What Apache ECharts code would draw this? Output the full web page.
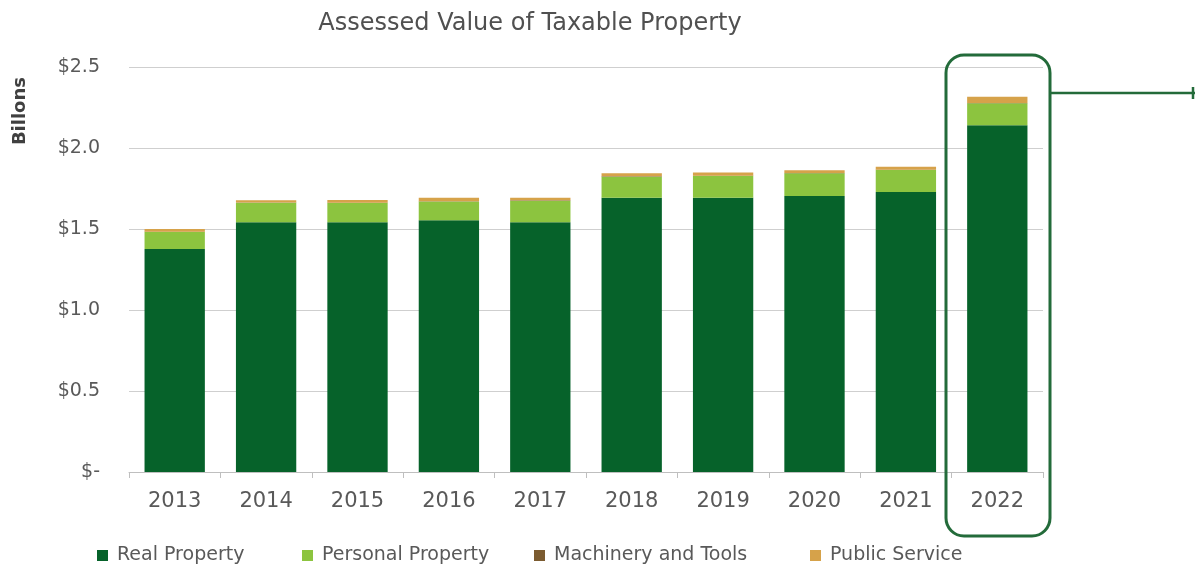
<!DOCTYPE html>
<html>
<head>
<meta charset="utf-8">
<title>Assessed Value of Taxable Property</title>
<script src="https://cdn.jsdelivr.net/npm/echarts@6/dist/echarts.min.js"></script>
<style>
  html, body { margin: 0; padding: 0; background: #ffffff; }
  #chart { width: 1195px; height: 566px; }
</style>
</head>
<body>
<div id="chart"></div>
<script>
// Fiscal years shown on the category axis
const years = ['2013', '2014', '2015', '2016', '2017', '2018', '2019', '2020', '2021', '2022'];

// Assessed values by class, in billions of dollars
const realProperty      = [1.377, 1.541, 1.541, 1.554, 1.541, 1.693, 1.693, 1.704, 1.728, 2.140];
const personalProperty  = [0.104, 0.121, 0.119, 0.115, 0.134, 0.130, 0.134, 0.140, 0.136, 0.136];
const machineryTools    = [0.002, 0.002, 0.002, 0.002, 0.002, 0.002, 0.002, 0.002, 0.002, 0.002];
const publicService     = [0.017, 0.013, 0.017, 0.022, 0.016, 0.019, 0.019, 0.016, 0.019, 0.039];

// Value axis ticks (billions)
const yTicks = [0, 0.5, 1.0, 1.5, 2.0, 2.5];

const seriesNames  = ['Real Property', 'Personal Property', 'Machinery and Tools', 'Public Service'];
const seriesColors = ['#06622a', '#8cc43f', '#7b5b30', '#d6a24a'];
const seriesData   = [realProperty, personalProperty, machineryTools, publicService];

const legendLeft = [92, 297, 529, 805];
const textGray = '#595959';
const tickFont = 'DejaVu Sans';

const chart = echarts.init(document.getElementById('chart'), null, { renderer: 'canvas' });

const option = {
  animation: false,
  backgroundColor: '#ffffff',
  title: {
    text: 'Assessed Value of Taxable Property',
    left: 525,
    textAlign: 'center',
    top: 7,
    textStyle: { fontFamily: tickFont, fontSize: 24, fontWeight: 'normal', color: '#505050' }
  },
  legend: seriesNames.map((name, i) => ({
    data: [name],
    left: legendLeft[i],
    top: 541,
    icon: 'rect',
    itemWidth: 11,
    itemHeight: 11,
    itemGap: 0,
    selectedMode: false,
    textStyle: { fontFamily: tickFont, fontSize: 19, color: textGray, padding: [0, 0, 0, 4] }
  })),
  grid: { left: 129, right: 152, top: 67, bottom: 94, containLabel: false },
  xAxis: {
    type: 'category',
    data: years,
    axisLine: { lineStyle: { color: '#bfbfbf', width: 1 } },
    axisTick: { show: true, length: 6, lineStyle: { color: '#bfbfbf' } },
    axisLabel: { margin: 19, fontFamily: tickFont, fontSize: 21, color: textGray }
  },
  yAxis: {
    type: 'value',
    min: yTicks[0],
    max: yTicks[yTicks.length - 1],
    interval: yTicks[1] - yTicks[0],
    axisLine: { show: false },
    axisTick: { show: false },
    splitLine: { lineStyle: { color: '#cfcfcf', width: 1 } },
    axisLabel: {
      margin: 29,
      fontFamily: tickFont,
      fontSize: 19,
      color: textGray,
      formatter: v => (v === 0 ? '$-' : '$' + v.toFixed(1))
    }
  },
  series: seriesNames.map((name, i) => ({
    name: name,
    type: 'bar',
    stack: 'total',
    data: seriesData[i],
    barCategoryGap: '34%',
    itemStyle: { color: seriesColors[i] },
    emphasis: { disabled: true }
  })),
  graphic: [
    {
      type: 'text',
      left: 11,
      top: 77,
      rotation: Math.PI / 2,
      style: {
        text: 'Billons',
        fontFamily: tickFont,
        fontSize: 18,
        fontWeight: 'bold',
        fill: '#404040'
      }
    },
    {
      // Highlight frame around the latest year
      type: 'rect',
      shape: { x: 946, y: 55, width: 104, height: 481, r: 18 },
      style: { fill: 'none', stroke: '#236b3a', lineWidth: 3 },
      z: 100
    },
    {
      type: 'line',
      shape: { x1: 1050, y1: 93, x2: 1195, y2: 93 },
      style: { stroke: '#236b3a', lineWidth: 2.5 },
      z: 100
    },
    {
      type: 'line',
      shape: { x1: 1193, y1: 87, x2: 1193, y2: 99 },
      style: { stroke: '#236b3a', lineWidth: 2.5 },
      z: 100
    }
  ]
};

chart.setOption(option);
</script>
</body>
</html>
